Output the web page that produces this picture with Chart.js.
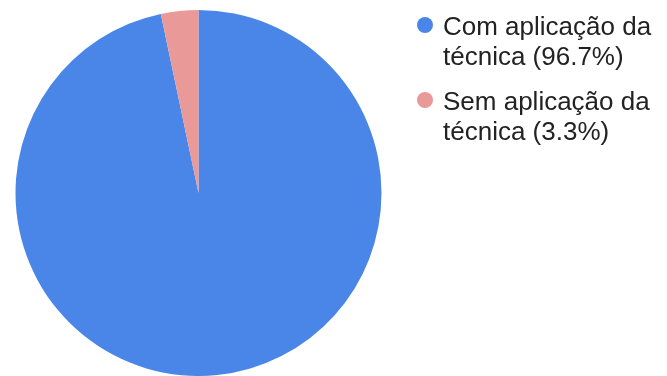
<!DOCTYPE html>
<html>
<head>
<meta charset="utf-8">
<script src="https://cdn.jsdelivr.net/npm/chart.js@4/dist/chart.umd.min.js"></script>
<style>
  html, body { margin: 0; padding: 0; background: #fff; }
  #wrap { width: 667px; height: 376px; position: relative; }
</style>
</head>
<body>
<div id="wrap"><canvas id="c"></canvas></div>
<script>
// dados
const labels = ["Com aplicação da técnica", "Sem aplicação da técnica"]
const percents = [96.7, 3.3]
const colors = ["#4a86e8", "#ea9999"]

// legenda desenhada à direita, com quebra de linha como no original
const sideLegend = {
  id: "sideLegend",
  afterDraw(chart) {
    const ctx = chart.ctx
    const ds = chart.data.datasets[0]
    ctx.save()
    ctx.font = "26px 'Liberation Sans', Arial, sans-serif"
    ctx.textBaseline = "alphabetic"
    chart.data.labels.forEach((lab, i) => {
      const base = 35 + i * 75
      const parts = lab.split(" técnica")
      ctx.beginPath()
      ctx.fillStyle = ds.backgroundColor[i]
      ctx.arc(425, base - 10, 8, 0, Math.PI * 2)
      ctx.fill()
      ctx.fillStyle = "#222"
      ctx.fillText(parts[0], 443, base)
      ctx.fillText("técnica (" + ds.data[i] + "%)", 443, base + 30)
    })
    ctx.restore()
  }
}

new Chart(document.getElementById("c"), {
  type: "pie",
  data: {
    labels: labels,
    datasets: [{
      data: percents,
      backgroundColor: colors,
      borderWidth: 0
    }]
  },
  options: {
    responsive: true,
    maintainAspectRatio: false,
    animation: false,
    layout: { padding: { left: 15, right: 285, top: 10, bottom: 0 } },
    plugins: {
      legend: { display: false },
      tooltip: { enabled: false }
    }
  },
  plugins: [sideLegend]
})
</script>
</body>
</html>
